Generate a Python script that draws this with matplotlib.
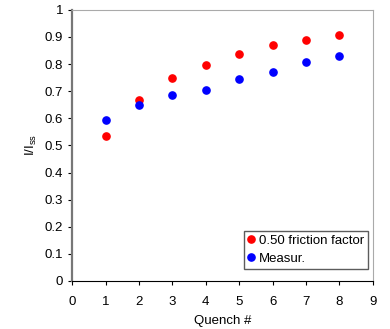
import numpy as np
import matplotlib
matplotlib.use('Agg')
import matplotlib.pyplot as plt

plt.rcParams['font.family'] = ['Liberation Sans', 'DejaVu Sans']

quench = [1, 2, 3, 4, 5, 6, 7, 8]
friction = [0.536, 0.668, 0.750, 0.797, 0.838, 0.871, 0.888, 0.909]
measur = [0.595, 0.648, 0.685, 0.706, 0.745, 0.770, 0.807, 0.831]

fig = plt.figure(figsize=(3.9, 3.29), dpi=100)
ax = fig.add_axes([0.185, 0.146, 0.771, 0.824])

ax.plot(quench, friction, 'o', color='#ff0000', ms=5.2, label='0.50 friction factor')
ax.plot(quench, measur, 'o', color='#0000ff', ms=5.2, label='Measur.')

ax.set_xlim(0, 9)
ax.set_ylim(0, 1)
ax.set_xticks(np.arange(0, 10, 1))
ax.set_yticks(np.arange(0, 1.01, 0.1))
ax.set_yticklabels(['0', '0.1', '0.2', '0.3', '0.4', '0.5', '0.6', '0.7', '0.8', '0.9', '1'])
ax.tick_params(direction='out', length=3, labelsize=9.5, colors='black')
ax.tick_params(axis='x', pad=8)

ax.spines['left'].set_color('#777777')
ax.spines['left'].set_linewidth(1.6)
ax.spines['top'].set_color('#aaaaaa')
ax.spines['right'].set_color('#aaaaaa')
ax.spines['bottom'].set_color('black')

ax.set_xlabel('Quench #', fontsize=9.5, labelpad=5)
ax.set_ylabel('I/I$_{\\mathregular{ss}}$', fontsize=9.5)

leg = ax.legend(loc='lower right', bbox_to_anchor=(0.983, 0.044), fontsize=9.5, frameon=True,
                fancybox=False, edgecolor='#333333', handlelength=0.5, handletextpad=0.3,
                borderpad=0.3, labelspacing=0.45, borderaxespad=0)
leg.get_frame().set_linewidth(1.0)

plt.savefig('out.png', dpi=100)
